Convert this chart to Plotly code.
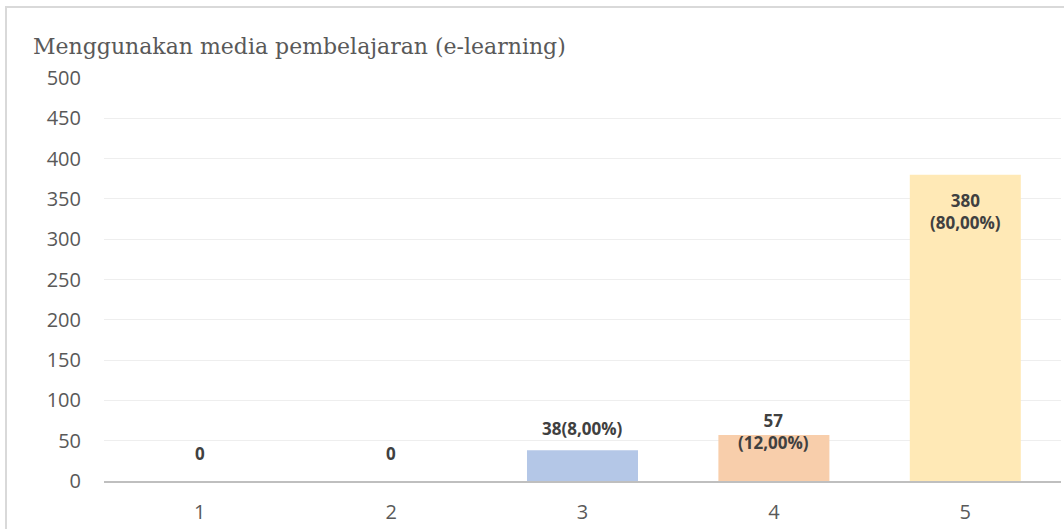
import plotly.graph_objects as go

categories = ["1", "2", "3", "4", "5"]
counts = [0, 0, 38, 57, 380]
labels = ["0", "0", "38(8,00%)", "57<br>(12,00%)", "380<br>(80,00%)"]
bar_colors = ["#B4C7E7", "#B4C7E7", "#B4C7E7", "#F8CEAB", "#FFE9B6"]
y_ticks = [0, 50, 100, 150, 200, 250, 300, 350, 400, 450, 500]

fig = go.Figure()
fig.add_trace(go.Bar(
    x=categories, y=counts, width=0.58,
    marker=dict(color=bar_colors, line=dict(width=0)),
    hoverinfo="x+y", showlegend=False,
))

# data labels: placement differs per bar like the original
label_pos = [
    dict(yanchor="bottom", yshift=14),
    dict(yanchor="bottom", yshift=14),
    dict(yanchor="bottom", yshift=8),
    dict(yanchor="middle", yshift=4),
    dict(yanchor="top", yshift=-12),
]
for i, (val, txt, pos) in enumerate(zip(counts, labels, label_pos)):
    fig.add_annotation(
        x=i, y=val, xref="x", yref="y", text=txt, showarrow=False,
        font=dict(family="Open Sans", size=17, color="#404040", weight="bold"),
        **pos,
    )

fig.add_shape(type="rect", xref="paper", yref="paper",
              x0=-0.1024, x1=1.02, y0=-0.3, y1=1.176,
              line=dict(color="#D9D9D9", width=2), fillcolor="rgba(0,0,0,0)", layer="below")

fig.update_layout(
    width=1064, height=529,
    paper_bgcolor="white", plot_bgcolor="white",
    margin=dict(l=104, r=3, t=78, b=48),
    title=dict(text="Menggunakan media pembelajaran (e-learning)",
               x=33 / 1064, xanchor="left", y=1 - 46 / 529, yanchor="middle",
               font=dict(family="DejaVu Serif", size=22, color="#595959")),
    bargap=0.42,
    xaxis=dict(type="category", showgrid=False, showline=True, linecolor="#BFBFBF", linewidth=2,
               ticks="", ticklabelstandoff=12,
               tickfont=dict(family="Open Sans", size=20, color="#595959")),
    yaxis=dict(range=[0, 500], tickvals=y_ticks, showgrid=True, gridcolor="#EEEEEE", gridwidth=1,
               zeroline=False, showline=False, ticks="", ticklabelstandoff=22,
               tickfont=dict(family="Open Sans", size=20, color="#595959")),
)

fig.write_html("out.html", config={"displayModeBar": False},
               post_script="document.body.style.margin='0';")
